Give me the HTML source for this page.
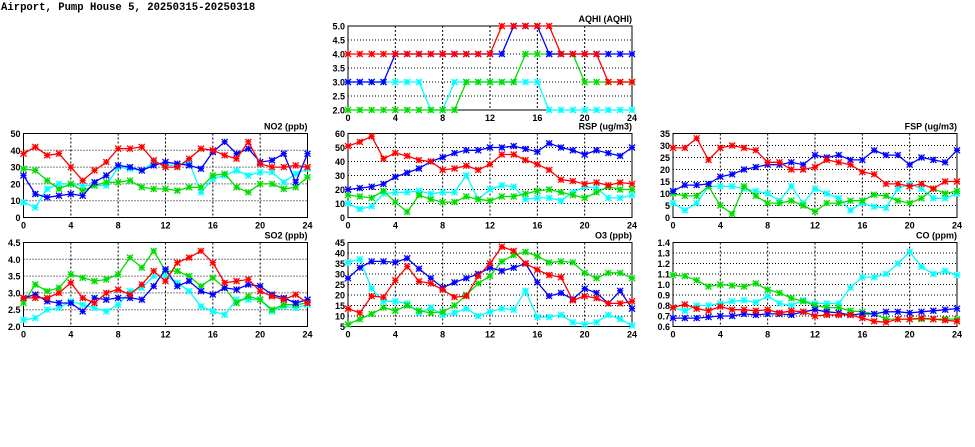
<!DOCTYPE html>
<html><head><meta charset="utf-8">
<style>
html,body{margin:0;padding:0;background:#fff;}
svg{display:block;font-family:"Liberation Sans",sans-serif;}
</style></head>
<body>
<svg id="chart" width="975" height="447" viewBox="0 0 975 447">
<text x="1" y="10" font-size="10.6" font-weight="bold" font-family="Liberation Mono, monospace">Airport, Pump House 5, 20250315-20250318</text>
</svg>
<script>
const hours = [0,1,2,3,4,5,6,7,8,9,10,11,12,13,14,15,16,17,18,19,20,21,22,23,24];
const xTicks = [0,4,8,12,16,20,24];
const seriesColors = ['#00ffff','#00dd00','#0000ff','#ff0000'];

const aqhiCyan  = [3,3,3,3,3,3,3,2,2,3,3,3,3,3,3,3,3,2,2,2,2,2,2,2,2];
const aqhiGreen = [2,2,2,2,2,2,2,2,2,2,3,3,3,3,3,4,4,4,4,4,3,3,3,3,3];
const aqhiBlue  = [3,3,3,3,4,4,4,4,4,4,4,4,4,4,5,5,5,4,4,4,4,4,4,4,4];
const aqhiRed   = [4,4,4,4,4,4,4,4,4,4,4,4,4,5,5,5,5,5,4,4,4,4,3,3,3];
const aqhiTicks = [2.0,2.5,3.0,3.5,4.0,4.5,5.0];

const no2Cyan  = [9,6,17,20,20,19,19,19,30,29,28,33,31,31,33,15,23,25,28,25,27,27,21,26,29];
const no2Green = [29,28,22,17,20,16,19,21,21,22,18,17,17,16,18,18,25,26,18,15,20,20,17,18,24];
const no2Blue  = [25,14,12,13,14,13,21,25,31,30,28,31,33,32,31,29,39,45,38,41,33,34,38,21,38];
const no2Red   = [38,42,37,38,30,22,28,33,41,41,42,34,30,30,35,41,40,37,35,45,32,30,30,31,30];
const no2Ticks = [0,10,20,30,40,50];

const rspCyan  = [10,6,8,17,18,18,19,17,18,18,30,13,20,23,22,13,14,14,12,18,22,21,14,14,16];
const rspGreen = [16,15,14,19,11,4,16,13,11,11,15,13,12,15,15,17,19,20,18,16,14,18,22,20,20];
const rspBlue  = [20,21,22,24,29,32,35,40,43,46,48,48,50,50,51,49,47,53,50,48,45,48,46,44,50];
const rspRed   = [51,54,58,42,46,44,41,40,34,35,37,34,38,45,45,41,38,34,27,26,24,25,23,25,24];
const rspTicks = [0,10,20,30,40,50,60];

const fspCyan  = [6,3,6,13,13,13,12,11,10,7,13,6,12,10,8,3,6,4.5,4,12,14,12,8,8,10];
const fspGreen = [10,9,9,13,5,1.5,13,9,6,6,7,5,2.5,6,6,7,7,9.5,9,7,6,8,12,10,11];
const fspBlue  = [11,13.5,13.5,14,17,18,20,21,22,22,23,22,26,25,26,24,24,28,26,26,22,25,24,23,28];
const fspRed   = [29,29,33,24,29,30,29,28,23,23,20,20,21,24,23,22,19,18,14,14,13,14,12,15,15];
const fspTicks = [0,5,10,15,20,25,30,35];

const so2Cyan  = [2.2,2.25,2.5,2.55,2.75,2.65,2.55,2.45,2.65,3.05,3.15,3.5,3.5,3.3,3.05,2.6,2.45,2.35,2.8,2.8,2.8,2.45,2.6,2.55,2.65];
const so2Green = [2.7,3.25,3.05,3.15,3.55,3.45,3.35,3.4,3.55,4.05,3.75,4.25,3.65,3.65,3.5,3.2,3.45,3.15,2.7,2.9,2.8,2.5,2.65,2.65,2.7];
const so2Blue  = [2.85,2.95,2.75,2.7,2.7,2.45,2.85,2.8,2.85,2.85,2.8,3.2,3.7,3.2,3.35,3.05,2.95,3.15,3.1,3.25,3.2,2.95,2.85,2.7,2.8];
const so2Red   = [2.85,2.85,2.85,3.0,3.3,2.85,2.7,3.0,3.1,2.95,3.25,3.65,3.35,3.9,4.05,4.25,3.9,3.3,3.35,3.4,3.05,2.9,2.8,2.95,2.7];
const so2Ticks = [2.0,2.5,3.0,3.5,4.0,4.5];

const o3Cyan  = [35.5,37,23,17,17,16,11.5,14,10.5,11.5,13.5,10,12,13.5,13,22,9.5,9.5,10.5,7,6,7,10.5,8.5,5.5];
const o3Green = [6,8.5,11,14,12.5,15,12.5,11.5,12,15,20,25.5,29,36,39,40.5,38.5,35.5,36,35.5,30.5,28,30.5,30.5,28];
const o3Blue  = [28,33,36,36,35.5,37.5,32.5,28,23.5,26,28,30,33,31.5,33,35,26,19.5,21,18,23,21,16,22,13.5];
const o3Red   = [13.5,11.5,19.5,19,27,33.5,26.5,25.5,22.5,19,19.5,29,35,43,41,35,32,29.5,28.5,17.5,19.5,18.5,16,16,17];
const o3Ticks = [5,10,15,20,25,30,35,40,45];

const coCyan  = [0.78,0.75,0.80,0.80,0.82,0.84,0.85,0.83,0.89,0.82,0.80,0.85,0.82,0.82,0.82,0.97,1.07,1.07,1.10,1.20,1.31,1.17,1.10,1.13,1.09];
const coGreen = [1.09,1.08,1.04,0.98,1.00,0.99,0.98,1.01,0.95,0.92,0.87,0.84,0.80,0.78,0.78,0.75,0.74,0.72,0.67,0.67,0.67,0.67,0.67,0.67,0.67];
const coBlue  = [0.68,0.68,0.68,0.69,0.70,0.70,0.72,0.71,0.72,0.72,0.71,0.74,0.76,0.74,0.73,0.71,0.72,0.72,0.74,0.74,0.73,0.74,0.75,0.76,0.77];
const coRed   = [0.78,0.81,0.77,0.75,0.79,0.76,0.76,0.75,0.76,0.73,0.75,0.74,0.70,0.71,0.71,0.71,0.68,0.65,0.64,0.67,0.67,0.68,0.67,0.66,0.65];
const coTicks = [0.6,0.7,0.8,0.9,1.0,1.1,1.2,1.3,1.4];

const NS='http://www.w3.org/2000/svg';
const svg=document.getElementById('chart');
function mk(tag,attrs,parent){const e=document.createElementNS(NS,tag);for(const k in attrs)e.setAttribute(k,attrs[k]);(parent||svg).appendChild(e);return e;}

const panels=[
 {key:'aqhi',title:'AQHI (AQHI)',x:348,y:26,ticks:aqhiTicks,dec:1,series:[aqhiCyan,aqhiGreen,aqhiBlue,aqhiRed]},
 {key:'no2',title:'NO2 (ppb)',x:23.5,y:133.5,ticks:no2Ticks,dec:0,series:[no2Cyan,no2Green,no2Blue,no2Red]},
 {key:'rsp',title:'RSP (ug/m3)',x:348,y:133.5,ticks:rspTicks,dec:0,series:[rspCyan,rspGreen,rspBlue,rspRed]},
 {key:'fsp',title:'FSP (ug/m3)',x:673,y:133.5,ticks:fspTicks,dec:0,series:[fspCyan,fspGreen,fspBlue,fspRed]},
 {key:'so2',title:'SO2 (ppb)',x:23.5,y:242.5,ticks:so2Ticks,dec:1,series:[so2Cyan,so2Green,so2Blue,so2Red]},
 {key:'o3',title:'O3 (ppb)',x:348,y:242.5,ticks:o3Ticks,dec:0,series:[o3Cyan,o3Green,o3Blue,o3Red]},
 {key:'co',title:'CO (ppm)',x:673,y:242.5,ticks:coTicks,dec:1,series:[coCyan,coGreen,coBlue,coRed]}
];
const W=284,H=84;
const seriesNames=['cyan','green','blue','red'];

panels.forEach(p=>{
  const g=mk('g',{});
  
  
  const ymin=p.ticks[0],ymax=p.ticks[p.ticks.length-1];
  const sx=v=>p.x+v/24*W;
  const sy=v=>p.y+H-(v-ymin)/(ymax-ymin)*H;
  p.ticks.forEach((t,i)=>{
    const y=sy(t);
    if(i>0&&i<p.ticks.length-1){const l=mk('line',{x1:p.x,x2:p.x+W,y1:y,y2:y,stroke:'#000','stroke-width':1,'stroke-dasharray':'1,2'},g);
      }
    const tx=mk('text',{x:p.x-3,y:y+3.5,'font-size':9,'font-weight':'bold','text-anchor':'end'},g);
    tx.textContent=t.toFixed(p.dec);
    
  });
  xTicks.forEach((t,i)=>{
    const x=sx(t);
    if(i>0&&i<xTicks.length-1){const l=mk('line',{x1:x,x2:x,y1:p.y,y2:p.y+H,stroke:'#000','stroke-width':1,'stroke-dasharray':'2,2'},g);
      }
    const tx=mk('text',{x:x,y:p.y+H+11,'font-size':9,'font-weight':'bold','text-anchor':'middle'},g);
    tx.textContent=t;
    
  });
  const fr=mk('rect',{x:p.x,y:p.y,width:W,height:H,fill:'none',stroke:'#000','stroke-width':1},g);
  
  const tt=mk('text',{x:p.x+W,y:p.y-4,'font-size':9,'font-weight':'bold','text-anchor':'end'},g);
  tt.textContent=p.title;
  
  p.series.forEach((vals,si)=>{
    const c=seriesColors[si];
    const sg=mk('g',{},g);
    
    
    const pts=vals.map((v,i)=>sx(hours[i]).toFixed(1)+','+sy(v).toFixed(1)).join(' ');
    const pl=mk('polyline',{points:pts,fill:'none',stroke:c,'stroke-width':1.3},sg);
    
    vals.forEach((v,i)=>{
      const cx=sx(hours[i]),cy=sy(v),r=3;
      const m=mk('path',{d:`M${cx-r},${cy-r}L${cx+r},${cy+r}M${cx-r},${cy+r}L${cx+r},${cy-r}M${cx-r},${cy}L${cx+r},${cy}M${cx},${cy-r}L${cx},${cy+r}`,stroke:c,'stroke-width':1.3},sg);
      
      
    });
  });
});
</script>
</body></html>
